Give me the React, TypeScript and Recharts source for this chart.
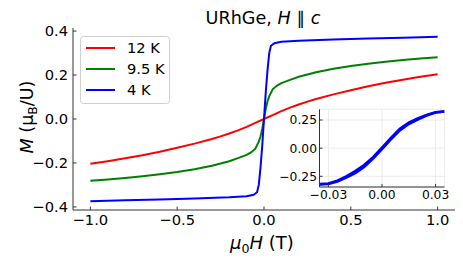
import React from 'react';
import { LineChart, Line, XAxis, YAxis, CartesianGrid } from 'recharts';

// field (T) and magnetisation (muB/U) for each temperature
const field12K = [-1.0, -0.9, -0.8, -0.7, -0.6, -0.5, -0.4, -0.3, -0.25, -0.2, -0.15, -0.1, -0.05, 0, 0.05, 0.1, 0.15, 0.2, 0.25, 0.3, 0.4, 0.5, 0.6, 0.7, 0.8, 0.9, 1.0];
const m12K = [-0.204, -0.192, -0.179, -0.165, -0.149, -0.131, -0.112, -0.091, -0.079, -0.066, -0.052, -0.036, -0.018, 0, 0.018, 0.036, 0.052, 0.066, 0.079, 0.091, 0.112, 0.131, 0.149, 0.165, 0.179, 0.192, 0.204];

const field9K = [-1.0, -0.9, -0.8, -0.7, -0.6, -0.5, -0.4, -0.3, -0.2, -0.15, -0.1, -0.075, -0.05, -0.03, -0.02, -0.01, 0, 0.01, 0.02, 0.03, 0.05, 0.075, 0.1, 0.15, 0.2, 0.3, 0.4, 0.5, 0.6, 0.7, 0.8, 0.9, 1.0];
const m9K = [-0.281, -0.275, -0.268, -0.26, -0.251, -0.241, -0.229, -0.213, -0.192, -0.178, -0.163, -0.152, -0.135, -0.103, -0.08, -0.045, 0, 0.045, 0.08, 0.103, 0.135, 0.152, 0.163, 0.178, 0.192, 0.213, 0.229, 0.241, 0.251, 0.26, 0.268, 0.275, 0.281];

const field4K = [-1.0, -0.8, -0.6, -0.4, -0.2, -0.1, -0.06, -0.04, -0.03, -0.02, -0.01, 0, 0.01, 0.02, 0.03, 0.04, 0.06, 0.1, 0.2, 0.4, 0.6, 0.8, 1.0];
const m4K = [-0.374, -0.37, -0.366, -0.362, -0.356, -0.351, -0.345, -0.333, -0.3, -0.22, -0.12, 0, 0.12, 0.22, 0.3, 0.333, 0.345, 0.351, 0.356, 0.362, 0.366, 0.37, 0.374];

// inset: 4 K loop, both sweep directions
const fieldInset = [-0.035, -0.03, -0.025, -0.02, -0.015, -0.01, -0.005, 0, 0.005, 0.01, 0.015, 0.02, 0.025, 0.03, 0.035];
const mInsetDown = [-0.318, -0.314, -0.288, -0.25, -0.204, -0.15, -0.08, 0.006, 0.092, 0.172, 0.228, 0.264, 0.296, 0.318, 0.326];
const mInsetUp = [-0.322, -0.318, -0.296, -0.262, -0.222, -0.168, -0.094, -0.008, 0.078, 0.158, 0.214, 0.254, 0.29, 0.316, 0.326];

const seriesNames = ['12 K', '9.5 K', '4 K'];
const seriesColors = ['#ff0000', '#008000', '#0000ff'];

const mainXTicks = [-1, -0.5, 0, 0.5, 1];
const mainYTicks = [-0.4, -0.2, 0, 0.2, 0.4];
const insetXTicks = [-0.03, 0, 0.03];
const insetYTicks = [-0.25, 0, 0.25];

const toPoints = (h: number[], m: number[]) => h.map((x, i) => ({ h: x, m: m[i] }));

const mainSeries = [toPoints(field12K, m12K), toPoints(field9K, m9K), toPoints(field4K, m4K)];
const insetSeries = [toPoints(fieldInset, mInsetDown), toPoints(fieldInset, mInsetUp)];

const FONT = '"DejaVu Sans", sans-serif';
const SPINE = '#333';
const fmt = (d: number) => (v: number) => v.toFixed(d).replace('-', '\u2212');
const blank = () => '';

export default function App() {
    const mainTick = { fill: '#000', fontSize: 14.7, fontFamily: FONT };
    const insetTick = { fill: '#000', fontSize: 12.3, fontFamily: FONT };
    const line = { stroke: SPINE };

    return (
        <div style={{ position: 'absolute', left: 0, top: 0, width: 463, height: 261, background: '#fff' }}>
            <LineChart width={463} height={261} margin={{ top: 28, right: 8, bottom: 26, left: 28 }}>
                <XAxis xAxisId="b" type="number" dataKey="h" domain={[-1.1, 1.1]} allowDataOverflow
                    ticks={mainXTicks} interval={0} tickFormatter={fmt(1)} height={25}
                    tickSize={-3.5} tickMargin={8.5} axisLine={line} tickLine={line} tick={mainTick} />
                <XAxis xAxisId="t" orientation="top" type="number" dataKey="h" domain={[-1.1, 1.1]} allowDataOverflow
                    ticks={mainXTicks} interval={0} tickFormatter={blank} height={0}
                    tickSize={-3.5} axisLine={line} tickLine={line} />
                <YAxis yAxisId="l" type="number" domain={[-0.414, 0.414]} allowDataOverflow
                    ticks={mainYTicks} interval={0} tickFormatter={fmt(1)} width={45}
                    tickSize={-3.5} tickMargin={8.5} axisLine={line} tickLine={line} tick={mainTick} />
                <YAxis yAxisId="r" orientation="right" type="number" domain={[-0.414, 0.414]} allowDataOverflow
                    ticks={mainYTicks} interval={0} tickFormatter={blank} width={0}
                    tickSize={-3.5} axisLine={line} tickLine={line} />
                {mainSeries.map((pts, i) => (
                    <Line key={seriesNames[i]} xAxisId="b" yAxisId="l" data={pts} dataKey="m" name={seriesNames[i]}
                        stroke={seriesColors[i]} strokeWidth={2} dot={false} isAnimationActive={false} />
                ))}
            </LineChart>

            <div style={{ position: 'absolute', left: 270, top: 100 }}>
                <LineChart width={180} height={110} margin={{ top: 9.3, right: 5.5, bottom: 3, left: 9.5 }}>
                    <CartesianGrid xAxisId="b" yAxisId="l" stroke="#ececec" fill="#fff" fillOpacity={1} />
                    <XAxis xAxisId="b" type="number" dataKey="h" domain={[-0.035, 0.035]} allowDataOverflow
                        ticks={insetXTicks} interval={0} tickFormatter={fmt(2)} height={20}
                        tickSize={-3} tickMargin={6.5} axisLine={line} tickLine={line} tick={insetTick} />
                    <XAxis xAxisId="t" orientation="top" type="number" dataKey="h" domain={[-0.035, 0.035]} allowDataOverflow
                        ticks={insetXTicks} interval={0} tickFormatter={blank} height={0}
                        tickSize={-3} axisLine={line} tickLine={line} />
                    <YAxis yAxisId="l" type="number" domain={[-0.345, 0.345]} allowDataOverflow
                        ticks={insetYTicks} interval={0} tickFormatter={fmt(2)} width={40}
                        tickSize={-3} tickMargin={5.5} axisLine={line} tickLine={line} tick={insetTick} />
                    <YAxis yAxisId="r" orientation="right" type="number" domain={[-0.345, 0.345]} allowDataOverflow
                        ticks={insetYTicks} interval={0} tickFormatter={blank} width={0}
                        tickSize={-3} axisLine={line} tickLine={line} />
                    {insetSeries.map((pts, i) => (
                        <Line key={i} xAxisId="b" yAxisId="l" data={pts} dataKey="m"
                            stroke="#0000ff" strokeWidth={2.5} dot={false} isAnimationActive={false} />
                    ))}
                </LineChart>
            </div>

            <svg width={463} height={261} style={{ position: 'absolute', left: 0, top: 0, pointerEvents: 'none' }}
                fontFamily={FONT}>
                <text x={263} y={24} textAnchor="middle" fontSize={17.6} fill="#000">
                    URhGe, <tspan fontStyle="italic">H</tspan> ∥ <tspan fontStyle="italic">c</tspan>
                </text>
                <text x={262} y={249} textAnchor="middle" fontSize={18} fill="#000">
                    <tspan fontStyle="italic">μ</tspan>
                    <tspan fontSize={12.6} dy={4}>0</tspan>
                    <tspan fontStyle="italic" dy={-4}>H</tspan> (T)
                </text>
                <text transform="translate(33,117) rotate(-90)" textAnchor="middle" fontSize={17.6} fill="#000">
                    <tspan fontStyle="italic">M</tspan> (μ
                    <tspan fontSize={12.3} dy={4}>B</tspan>
                    <tspan dy={-4}>/U)</tspan>
                </text>
                <g>
                    <rect x={80.5} y={36.5} width={89} height={67} rx={3} fill="#fff" fillOpacity={0.8} stroke="#d0d0d0" />
                    {seriesNames.map((name, i) => (
                        <g key={name}>
                            <line x1={86} x2={115} y1={48 + i * 21} y2={48 + i * 21} stroke={seriesColors[i]} strokeWidth={2} />
                            <text x={127} y={53 + i * 21} fontSize={14.7} fill="#000">{name}</text>
                        </g>
                    ))}
                </g>
            </svg>
        </div>
    );
}
